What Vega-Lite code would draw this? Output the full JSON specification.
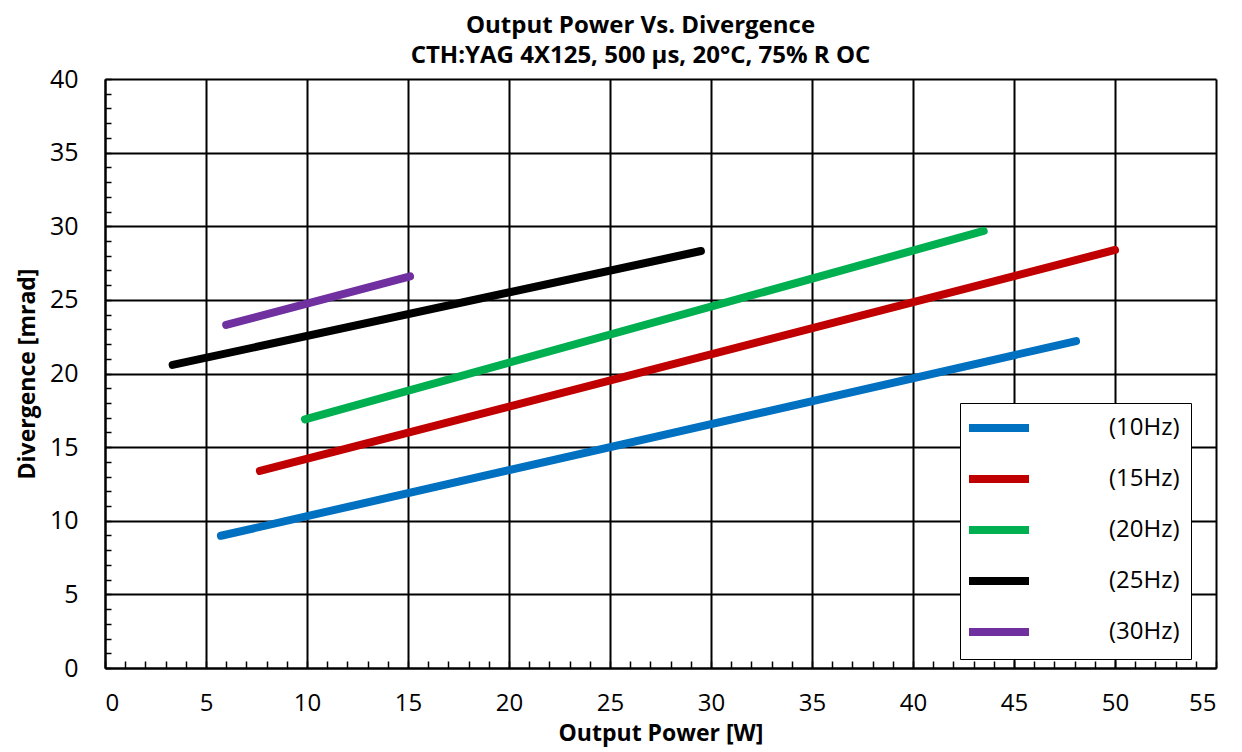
{
  "$schema": "https://vega.github.io/schema/vega-lite/v6.json",
  "autosize": {"type": "none"},
  "width": 1111,
  "height": 589,
  "padding": {"left": 105, "top": 79, "right": 26, "bottom": 84},
  "background": "white",
  "config": {
    "view": {"stroke": null},
    "font": "Open Sans",
    "axis": {"labelFont": "Open Sans", "titleFont": "Open Sans", "labelColor": "black", "titleColor": "black"}
  },
  "title": {
    "text": ["Output Power Vs. Divergence", "CTH:YAG 4X125, 500 µs, 20°C, 75% R OC"],
    "font": "Open Sans",
    "fontSize": 24,
    "fontWeight": "bold",
    "color": "black",
    "lineHeight": 30,
    "anchor": "middle",
    "dx": -20,
    "offset": -1
  },
  "data": {
    "values": [
      {"series": "(10Hz)", "power": 5.74, "div": 8.98},
      {"series": "(10Hz)", "power": 48.07, "div": 22.2},
      {"series": "(15Hz)", "power": 7.67, "div": 13.38},
      {"series": "(15Hz)", "power": 50.0, "div": 28.39},
      {"series": "(20Hz)", "power": 9.9, "div": 16.89},
      {"series": "(20Hz)", "power": 43.5, "div": 29.68},
      {"series": "(25Hz)", "power": 3.35, "div": 20.58},
      {"series": "(25Hz)", "power": 29.5, "div": 28.32},
      {"series": "(30Hz)", "power": 6.0, "div": 23.3},
      {"series": "(30Hz)", "power": 15.1, "div": 26.6}
    ]
  },
  "resolve": {"axis": {"x": "independent", "y": "independent"}},
  "layer": [
    {
      "mark": {"type": "point", "opacity": 0},
      "encoding": {
        "x": {"field": "power", "type": "quantitative",
          "scale": {"domain": [0, 55], "nice": false},
          "axis": {"orient": "bottom", "values": [0,1,2,3,4,5,6,7,8,9,10,11,12,13,14,15,16,17,18,19,20,21,22,23,24,25,26,27,28,29,30,31,32,33,34,35,36,37,38,39,40,41,42,43,44,45,46,47,48,49,50,51,52,53,54,55],
            "labels": false, "domain": false, "grid": false, "ticks": true, "tickSize": -7, "tickColor": "black", "tickWidth": 1.5, "title": null}},
        "y": {"field": "div", "type": "quantitative",
          "scale": {"domain": [0, 40], "nice": false},
          "axis": {"orient": "left", "values": [0,1,2,3,4,5,6,7,8,9,10,11,12,13,14,15,16,17,18,19,20,21,22,23,24,25,26,27,28,29,30,31,32,33,34,35,36,37,38,39,40],
            "labels": false, "domain": false, "grid": false, "ticks": true, "tickSize": -6, "tickColor": "black", "tickWidth": 1.5, "title": null}}
      }
    },
    {
      "mark": {"type": "line", "strokeWidth": 8, "strokeCap": "round"},
      "encoding": {
        "x": {"field": "power", "type": "quantitative",
          "scale": {"domain": [0, 55], "nice": false},
          "axis": {"orient": "bottom", "values": [0,5,10,15,20,25,30,35,40,45,50,55], "grid": true, "gridColor": "black", "gridWidth": 2, "gridOpacity": 1,
            "domain": true, "domainColor": "black", "domainWidth": 2, "tickSize": 0, "labelFontSize": 24, "labelPadding": 23,
            "title": "Output Power [W]", "titleFontSize": 23, "titleFontWeight": "bold", "titlePadding": 7}},
        "y": {"field": "div", "type": "quantitative",
          "scale": {"domain": [0, 40], "nice": false},
          "axis": {"orient": "left", "values": [0,5,10,15,20,25,30,35,40], "grid": true, "gridColor": "black", "gridWidth": 2, "gridOpacity": 1,
            "domain": true, "domainColor": "black", "domainWidth": 2, "tickSize": 0, "labelFontSize": 25, "labelPadding": 27,
            "title": "Divergence [mrad]", "titleFontSize": 23, "titleFontWeight": "bold", "titlePadding": 10}},
        "color": {"field": "series", "type": "nominal",
          "scale": {"domain": ["(10Hz)", "(15Hz)", "(20Hz)", "(25Hz)", "(30Hz)"], "range": ["#0070C0", "#C00000", "#00B050", "#000000", "#7030A0"]},
          "legend": {"orient": "none", "legendX": 855, "legendY": 324, "title": null,
            "symbolType": "M-1.6,0H4.4", "symbolSize": 400, "symbolStrokeWidth": 8,
            "labelFontSize": 24, "labelFont": "Open Sans", "labelColor": "black", "labelOffset": 110,
            "rowPadding": 19, "padding": 11, "strokeColor": "black", "fillColor": "white"}},
        "order": {"field": "power", "type": "quantitative"}
      }
    }
  ]
}
